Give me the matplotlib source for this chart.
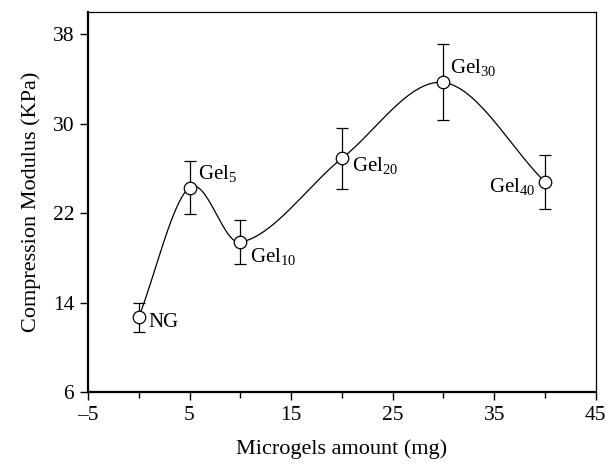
import numpy as np
import matplotlib.pyplot as plt
from matplotlib.ticker import MultipleLocator

plt.rcParams['font.family'] = ['Liberation Serif', 'DejaVu Serif']
plt.rcParams['mathtext.fontset'] = 'custom'
plt.rcParams['mathtext.rm'] = 'Liberation Serif'
plt.rcParams['mathtext.it'] = 'Liberation Serif:italic'

# microgel amount (mg) vs. compression modulus (KPa)
amount = [0, 5, 10, 20, 30, 40]
modulus = [12.7, 24.3, 19.4, 26.9, 33.7, 24.8]
err = [1.3, 2.35, 1.95, 2.7, 3.4, 2.45]
names = ['NG', 'Gel$_{5}$', 'Gel$_{10}$', 'Gel$_{20}$', 'Gel$_{30}$', 'Gel$_{40}$']


def smooth_curve(x, y, n=60):
    # piecewise cubic Hermite with finite-difference tangents
    x = np.asarray(x, float)
    y = np.asarray(y, float)
    m = np.empty_like(y)
    m[1:-1] = (y[2:] - y[:-2]) / (x[2:] - x[:-2])
    m[0] = (y[1] - y[0]) / (x[1] - x[0])
    m[-1] = (y[-1] - y[-2]) / (x[-1] - x[-2])
    xs_all, ys_all = [], []
    for i in range(len(x) - 1):
        h = x[i + 1] - x[i]
        t = np.linspace(0, 1, n)
        h00 = 2 * t**3 - 3 * t**2 + 1
        h10 = t**3 - 2 * t**2 + t
        h01 = -2 * t**3 + 3 * t**2
        h11 = t**3 - t**2
        xs_all.append(x[i] + t * h)
        ys_all.append(h00 * y[i] + h10 * h * m[i] + h01 * y[i + 1] + h11 * h * m[i + 1])
    return np.concatenate(xs_all), np.concatenate(ys_all)


fig = plt.figure(figsize=(6.11, 4.65), dpi=100)
ax = fig.add_axes([0.144, 0.157, 0.831, 0.817])

xs, ys = smooth_curve(amount, modulus)
ax.plot(xs, ys, color='black', lw=0.9, zorder=2)
ax.errorbar(amount, modulus, yerr=err, fmt='none', ecolor='black',
            elinewidth=0.9, capsize=4, capthick=0.9, zorder=3)
ax.plot(amount, modulus, 'o', ms=9, mfc='white', mec='black', mew=0.9, zorder=4)

# label offsets in points
offsets = [(7, -4), (6, 10), (7, -10), (7, -5), (5, 11), (-7, -3)]
aligns = ['left', 'left', 'left', 'left', 'left', 'right']
for x, y, s, off, ha in zip(amount, modulus, names, offsets, aligns):
    ax.annotate(s, (x, y), xytext=off, textcoords='offset points',
                ha=ha, va='center', fontsize=15)

ax.set_xlim(-5, 45)
ax.set_ylim(6, 40)
ax.set_xticks([-5, 5, 15, 25, 35, 45])
ax.set_xticklabels(['\u20135', '5', '15', '25', '35', '45'])
ax.xaxis.set_minor_locator(MultipleLocator(5))
ax.set_yticks([6, 14, 22, 30, 38])
ax.tick_params(axis='both', which='major', direction='out', length=6, width=1,
               labelsize=15.5, pad=4)
ax.tick_params(axis='x', which='minor', direction='out', length=4, width=1)

for side in ['left', 'bottom']:
    ax.spines[side].set_linewidth(1.6)
for side in ['top', 'right']:
    ax.spines[side].set_linewidth(0.9)

ax.set_xlabel('Microgels amount (mg)', fontsize=16, labelpad=10)
ax.set_ylabel('Compression Modulus (KPa)', fontsize=16, labelpad=8)

plt.savefig('out.png', dpi=100)
